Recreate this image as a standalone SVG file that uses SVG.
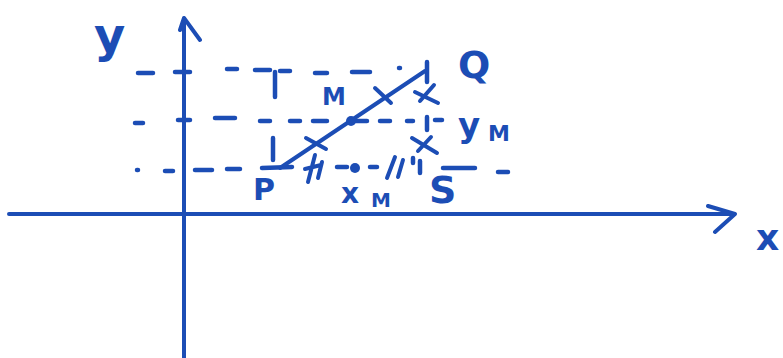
<svg xmlns="http://www.w3.org/2000/svg" width="783" height="358" viewBox="0 0 783 358">
<style>
.s{fill:none;stroke:#1c4db5;stroke-width:4;stroke-linecap:round;stroke-linejoin:round}
.d{fill:none;stroke:#1c4db5;stroke-width:4.5;stroke-linecap:round}
.t{fill:#1c4db5;font-family:"DejaVu Sans",sans-serif;font-weight:bold}
.p{fill:#1c4db5}
</style>
<rect width="783" height="358" fill="#fff"/>
<!-- axes -->
<g id="axes">
<path class="s" d="M9 214 L734 214 M708 206 L735 214 L715 232"/>
<path class="s" d="M184 358 L184 18 L200 40 M184 18 L180 30"/>
</g>
<!-- dashed guide lines -->
<g id="guides">
<path class="d" d="M138 73 L153 73 M175 72 L190 72 M227 69 L237 69 M255 70 L270 70 M280 71 L290 71 M315 73 L327 73 M352 72 L370 72 M399 68 L400 68 M275 72 L275 97"/>
<path class="d" d="M135 123 L143 123 M178 120 L190 120 M215 118 L235 118 M260 121 L270 121 M290 121 L300 121 M313 121 L327 121 M353 121 L367 121 M380 121 L390 121 M407 121 L413 121 M435 120 L442 120 M427 117 L427 130 M427 62 L427 82"/>
<path class="d" d="M137 170 L138 170 M165 171 L173 171 M195 170 L212 170 M227 169 L240 169 M262 168 L292 167 M337 167 L347 167 M370 167 L377 167 M443 168 L475 168 M498 172 L508 172 M273 138 L273 160 M413 158 L413 163 M420 161 L420 173"/>
</g>
<!-- segment PQ with marks -->
<g id="segment">
<path class="s" d="M280 168 L425 71"/>
<path class="s" d="M306 138 L326 149 M375 88 L391 103"/>
<path class="s" d="M415 92 L438 103 M434 85 L420 101"/>
<path class="s" d="M412 138 L437 153 M431 137 L418 151"/>
<path class="s" d="M315 155 L308 182 M322 162 L318 178 M305 169 L321 165"/>
<path class="s" d="M395 157 L387 178 M403 160 L398 177"/>
<circle class="p" cx="351" cy="121" r="5"/>
<circle class="p" cx="355" cy="168" r="5"/>
</g>
<!-- labels -->
<g id="labels">
<text class="t" x="94" y="52" font-size="48">y</text>
<text class="t" x="756" y="250" font-size="36">x</text>
<text class="t" x="458" y="78" font-size="38">Q</text>
<text class="t" x="322" y="105" font-size="24">M</text>
<text class="t" x="458" y="137" font-size="34">y</text>
<text class="t" x="488" y="141" font-size="22">M</text>
<text class="t" x="253" y="200" font-size="30">P</text>
<text class="t" x="341" y="203" font-size="28">x</text>
<text class="t" x="371" y="207" font-size="20">M</text>
<text class="t" x="429" y="203" font-size="38">S</text>
</g>
</svg>
